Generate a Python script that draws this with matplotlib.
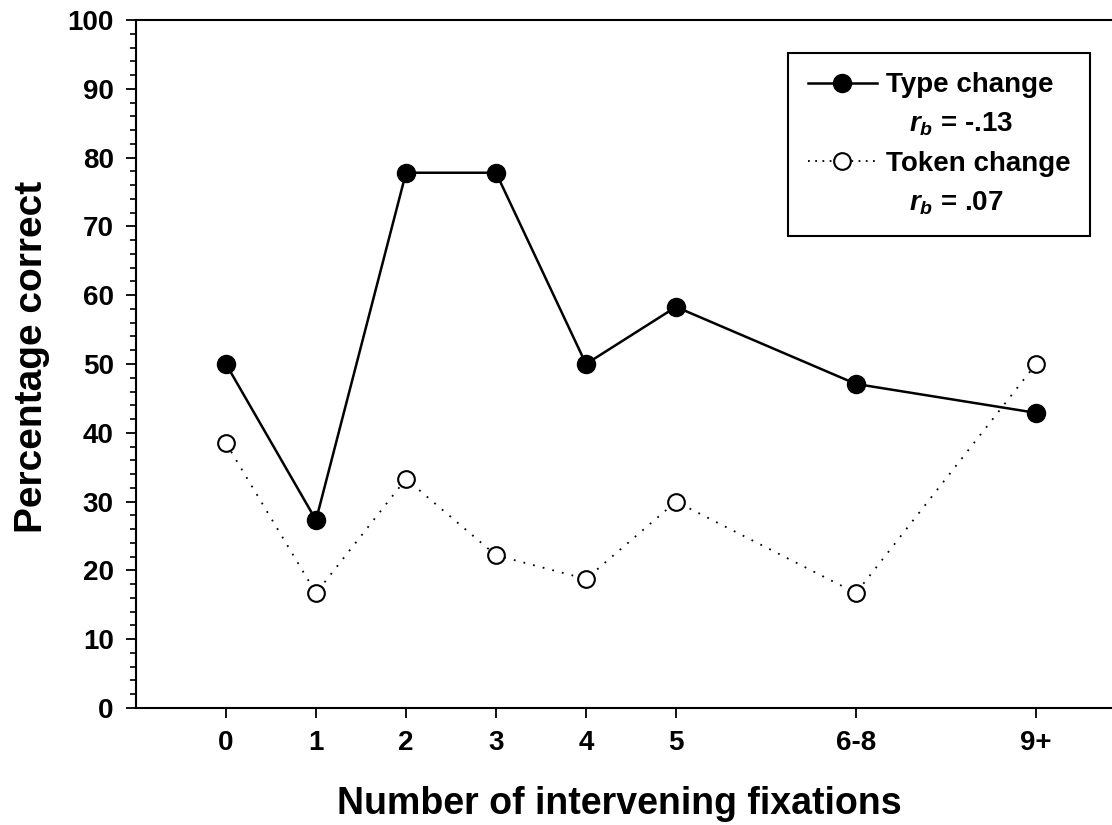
import numpy as np
import matplotlib.pyplot as plt
from matplotlib.lines import Line2D
from matplotlib.ticker import MultipleLocator

plt.rcParams['font.family'] = ['Liberation Sans', 'DejaVu Sans']
plt.rcParams['mathtext.fontset'] = 'custom'
plt.rcParams['mathtext.it'] = 'Liberation Sans:italic:bold'
plt.rcParams['mathtext.rm'] = 'Liberation Sans:bold'

# fixation bins; 6-8 and 9+ are spaced out on the axis
categories = ["0", "1", "2", "3", "4", "5", "6-8", "9+"]
x_pos = [0, 1, 2, 3, 4, 5, 7, 9]

type_change = [50.0, 27.3, 77.8, 77.8, 50.0, 58.3, 47.1, 42.9]
token_change = [38.5, 16.7, 33.3, 22.2, 18.75, 30.0, 16.7, 50.0]

fig = plt.figure(figsize=(11.12, 8.25), dpi=100)
ax = fig.add_axes([136 / 1112, 1 - 708 / 825, 1.0, (708 - 20) / 825])

dotted = (0, (1, 4.5))
ax.plot(x_pos, type_change, color="black", linewidth=1.8, marker="o",
        markersize=13, markerfacecolor="black", markeredgecolor="black",
        zorder=3)
ax.plot(x_pos, token_change, color="black", linewidth=1.3,
        linestyle=dotted, marker="o", markersize=12,
        markerfacecolor="white", markeredgecolor="black",
        markeredgewidth=1.5, zorder=3)

# axes run on past the right edge of the figure
ax.set_xlim(-1, -1 + 1112 / 90)
ax.set_ylim(0, 100)
ax.set_xticks(x_pos)
ax.set_xticklabels(categories)
ax.yaxis.set_major_locator(MultipleLocator(10))
ax.yaxis.set_minor_locator(MultipleLocator(2))

ax.spines["right"].set_visible(False)
for side in ["left", "bottom", "top"]:
    ax.spines[side].set_linewidth(1.5)

ax.tick_params(axis="both", which="major", direction="out", length=7,
               width=1.3, labelsize=20, pad=9)
ax.tick_params(axis="y", which="minor", direction="out", length=4, width=1.2)
for lbl in ax.get_xticklabels() + ax.get_yticklabels():
    lbl.set_fontweight("bold")

ax.set_xlabel("Number of intervening fixations", fontsize=27,
              fontweight="bold")
ax.xaxis.set_label_coords(0.435, -0.113)
ax.set_ylabel("Percentage correct", fontsize=28, fontweight="bold")
ax.yaxis.set_label_coords(-0.077, 0.51)

blank = Line2D([], [], linestyle="none")
h_type = Line2D([], [], color="black", linewidth=1.8, marker="o",
                markersize=13, markerfacecolor="black")
h_token = Line2D([], [], color="black", linewidth=1.3,
                 linestyle=(0, (1, 3)), marker="o", markersize=12,
                 markerfacecolor="white", markeredgewidth=1.5)
leg = ax.legend([h_type, blank, h_token, blank],
                ["Type change", "   $r_b$ = -.13",
                 "Token change", "   $r_b$ = .07"],
                loc="upper right", bbox_to_anchor=(1090 / 1112, 1 - 53 / 825),
                bbox_transform=fig.transFigure, borderaxespad=0,
                fancybox=False, edgecolor="black", framealpha=1,
                fontsize=20, handlelength=2.5, handletextpad=0.32,
                labelspacing=0.45, borderpad=0.7)
leg.get_frame().set_linewidth(1.5)
for t in leg.get_texts():
    t.set_fontweight("bold")

fig.savefig("out.png", dpi=100)
